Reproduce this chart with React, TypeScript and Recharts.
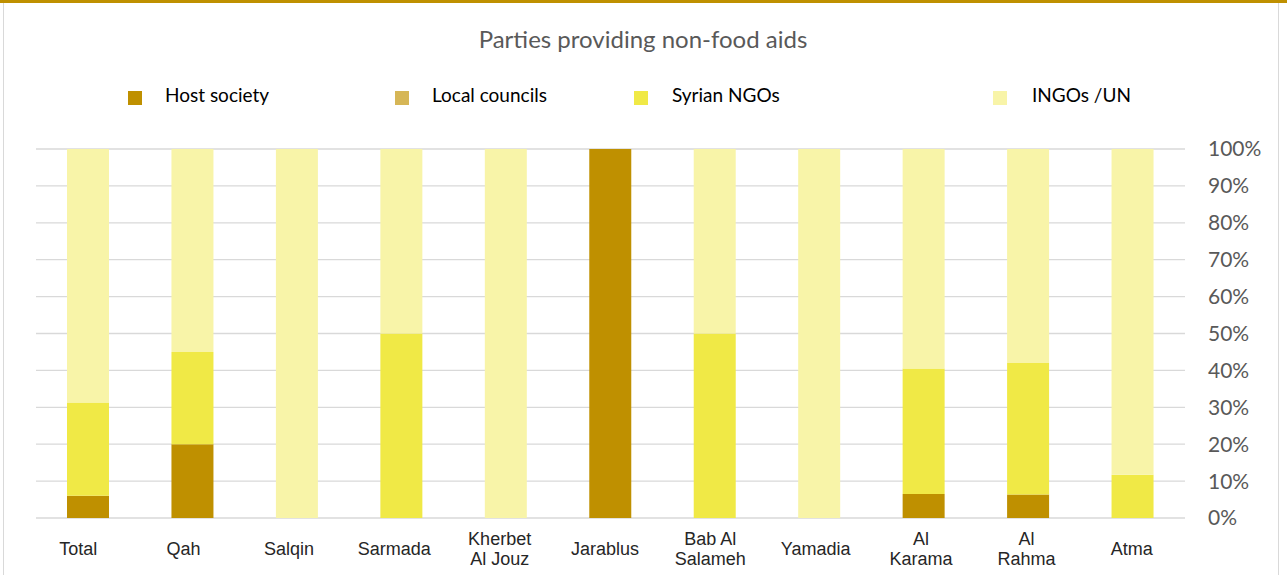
import { BarChart, Bar, XAxis, YAxis, CartesianGrid } from "recharts"

const sites = [
  "Total",
  "Qah",
  "Salqin",
  "Sarmada",
  "Kherbet\nAl Jouz",
  "Jarablus",
  "Bab Al\nSalameh",
  "Yamadia",
  "Al\nKarama",
  "Al\nRahma",
  "Atma",
]

const hostSociety = [6, 20, 0, 0, 0, 100, 0, 0, 6.5, 6.4, 0]
const localCouncils = [0, 0, 0, 0, 0, 0, 0, 0, 0, 0, 0]
const syrianNgos = [25.3, 25, 0, 50, 0, 0, 50, 0, 34, 35.6, 11.7]
const ingosUn = [68.7, 55, 100, 50, 100, 0, 50, 100, 59.5, 58, 88.3]

const yTicks = [0, 10, 20, 30, 40, 50, 60, 70, 80, 90, 100]

const series = [
  { key: "host", name: "Host society", color: "#BF9000", values: hostSociety, legendX: 128, textX: 165 },
  { key: "local", name: "Local councils", color: "#D6B656", values: localCouncils, legendX: 395, textX: 432 },
  { key: "syrian", name: "Syrian NGOs", color: "#F0E946", values: syrianNgos, legendX: 634, textX: 672 },
  { key: "ingo", name: "INGOs /UN", color: "#F8F4A8", values: ingosUn, legendX: 993, textX: 1032 },
]

const data = sites.map((site, i) => {
  const row: Record<string, string | number> = { site }
  series.forEach((s) => {
    row[s.key] = s.values[i]
  })
  return row
})

// excel spreads the category labels slightly wider than the bars
const SiteTick = (props: any) => {
  const { x, y, payload, index } = props
  const lines = String(payload.value).split("\n")
  const lx = x - 10 + 0.9 * index
  const startY = lines.length > 1 ? y + 19 : y + 29
  return (
    <text
      x={lx}
      y={startY}
      textAnchor="middle"
      fill="#262626"
      fontFamily="'Liberation Sans', Arial, sans-serif"
      fontSize={18}
    >
      {lines.map((l, i) => (
        <tspan key={i} x={lx} dy={i === 0 ? 0 : 20}>
          {l}
        </tspan>
      ))}
    </text>
  )
}

export default function App() {
  return (
    <div
      style={{
        position: "absolute",
        left: 0,
        top: 0,
        width: 1287,
        height: 575,
        background: "#fff",
        overflow: "hidden",
      }}
    >
      <div style={{ position: "absolute", left: 0, top: 0 }}>
        <BarChart
          width={1287}
          height={575}
          data={data}
          margin={{ top: 149, right: 12, left: 36, bottom: 17 }}
          barSize={42}
        >
          <CartesianGrid vertical={false} stroke="#D9D9D9" strokeWidth={1.3} />
          <XAxis
            dataKey="site"
            axisLine={false}
            tickLine={false}
            interval={0}
            height={40}
            tick={<SiteTick />}
          />
          <YAxis
            orientation="right"
            domain={[0, 100]}
            ticks={yTicks}
            axisLine={false}
            tickLine={false}
            tickSize={6}
            tickMargin={17}
            width={90}
            tickFormatter={(v: number) => `${v}%`}
            tick={{ fill: "#595959", fontSize: 21, fontFamily: "Lato, sans-serif", textAnchor: "start" }}
          />
          {series.map((s) => (
            <Bar
              key={s.key}
              dataKey={s.key}
              name={s.name}
              stackId="a"
              fill={s.color}
              isAnimationActive={false}
            />
          ))}
        </BarChart>
      </div>
      <svg
        width={1287}
        height={575}
        style={{ position: "absolute", left: 0, top: 0, pointerEvents: "none" }}
      >
        <rect x={0} y={0} width={1287} height={3} fill="#BF9000" />
        <rect x={3} y={3} width={1} height={572} fill="#D9D9D9" />
        <rect x={1278} y={3} width={1} height={572} fill="#D9D9D9" />
        <text x={643} y={48} textAnchor="middle" fontFamily="Lato, sans-serif" fontSize={24} fill="#595959">
          Parties providing non-food aids
        </text>
        {series.map((s) => (
          <g key={s.key}>
            <rect x={s.legendX} y={91} width={14} height={14} fill={s.color} />
            <text x={s.textX} y={102} fontFamily="Lato, sans-serif" fontSize={19} fill="#000">
              {s.name}
            </text>
          </g>
        ))}
      </svg>
    </div>
  )
}
